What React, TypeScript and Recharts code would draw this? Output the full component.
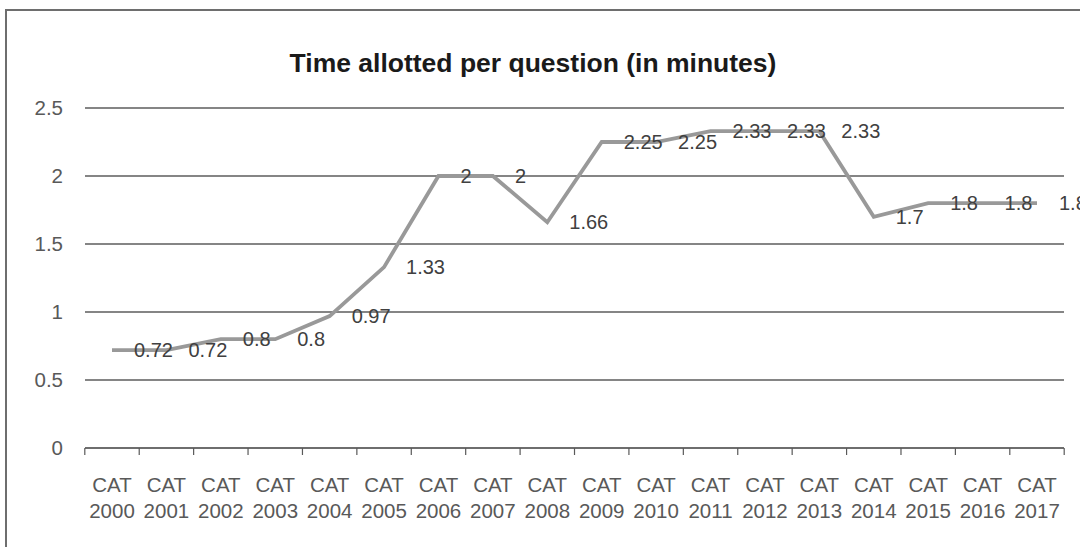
import React from 'react';
import { LineChart, Line, XAxis, YAxis, CartesianGrid } from 'recharts';

const categories = [
  'CAT 2000', 'CAT 2001', 'CAT 2002', 'CAT 2003', 'CAT 2004', 'CAT 2005',
  'CAT 2006', 'CAT 2007', 'CAT 2008', 'CAT 2009', 'CAT 2010', 'CAT 2011',
  'CAT 2012', 'CAT 2013', 'CAT 2014', 'CAT 2015', 'CAT 2016', 'CAT 2017',
];
const minutesPerQuestion = [
  0.72, 0.72, 0.8, 0.8, 0.97, 1.33, 2, 2, 1.66, 2.25, 2.25, 2.33, 2.33, 2.33, 1.7, 1.8, 1.8, 1.8,
];
const yTicks = [0, 0.5, 1, 1.5, 2, 2.5];
const title = 'Time allotted per question (in minutes)';

const data = categories.map((c, i) => ({ name: c, value: minutesPerQuestion[i] }));

const FONT = '"Liberation Sans", Arial, Helvetica, sans-serif';
const W = 1080;
const H = 547;
const X_AXIS_H = 99;
const MARGIN = { top: 108, right: 16, bottom: 0, left: 25 };
const Y_AXIS_W = 60;
const PAD = 27;
const PLOT_W = W - MARGIN.left - Y_AXIS_W - MARGIN.right;

const XTick = (props: any) => {
  const { x, y, payload, index } = props;
  const parts = String(payload.value).split(' ');
  const half = (PLOT_W / categories.length) / 2;
  return (
    <g>
      <line x1={x - half} x2={x - half} y1={y} y2={y + 7} stroke="#595959" strokeWidth={1.2} />
      {index === categories.length - 1 && (
        <line x1={x + half} x2={x + half} y1={y} y2={y + 7} stroke="#595959" strokeWidth={1.2} />
      )}
      <text x={x} y={y + 44} textAnchor="middle" fill="#595959" fontSize={20.5} fontFamily={FONT}>
        {parts[0]}
      </text>
      <text x={x} y={y + 70} textAnchor="middle" fill="#595959" fontSize={20.5} fontFamily={FONT}>
        {parts[1]}
      </text>
    </g>
  );
};

const renderLabel = (props: any) => {
  const { x, y, value, index } = props;
  return (
    <text key={`lbl-${index}`} x={x + 22} y={y + 7} textAnchor="start" fill="#404040" fontSize={20} fontFamily={FONT}>
      {value}
    </text>
  );
};

export default function App() {
  return (
    <div style={{ position: 'fixed', left: 0, top: 0, width: W, height: H, overflow: 'hidden', background: '#fff' }}>
      <div
        style={{
          position: 'absolute',
          left: 5,
          top: 9,
          width: 1300,
          height: 800,
          border: '2px solid #6e6e6e',
          boxSizing: 'border-box',
        }}
      />
      <div style={{ position: 'absolute', left: 0, top: 0 }}>
        <LineChart width={W} height={H} data={data} margin={MARGIN}>
          <CartesianGrid vertical={false} stroke="#0d0d0d" strokeWidth={1.2} />
          <XAxis
            dataKey="name"
            interval={0}
            padding={{ left: PAD, right: PAD }}
            tickLine={false}
            tickSize={0}
            tickMargin={0}
            axisLine={{ stroke: '#595959', strokeWidth: 1.2 }}
            tick={<XTick />}
            height={X_AXIS_H}
          />
          <YAxis
            width={Y_AXIS_W}
            domain={[0, 2.5]}
            ticks={yTicks}
            axisLine={false}
            tickLine={false}
            tickSize={0}
            tickMargin={22}
            tick={{ fill: '#595959', fontSize: 20.5, fontFamily: FONT }}
          />
          <Line
            type="linear"
            dataKey="value"
            stroke="#999999"
            strokeWidth={3.8}
            dot={false}
            activeDot={false}
            isAnimationActive={false}
            label={renderLabel}
          />
        </LineChart>
      </div>
      <svg width={W} height={H} style={{ position: 'absolute', left: 0, top: 0, pointerEvents: 'none' }}>
        <text x={533} y={72} textAnchor="middle" fontSize={26.5} fontWeight="bold" fill="#1a1a1a" fontFamily={FONT}>
          {title}
        </text>
      </svg>
    </div>
  );
}
